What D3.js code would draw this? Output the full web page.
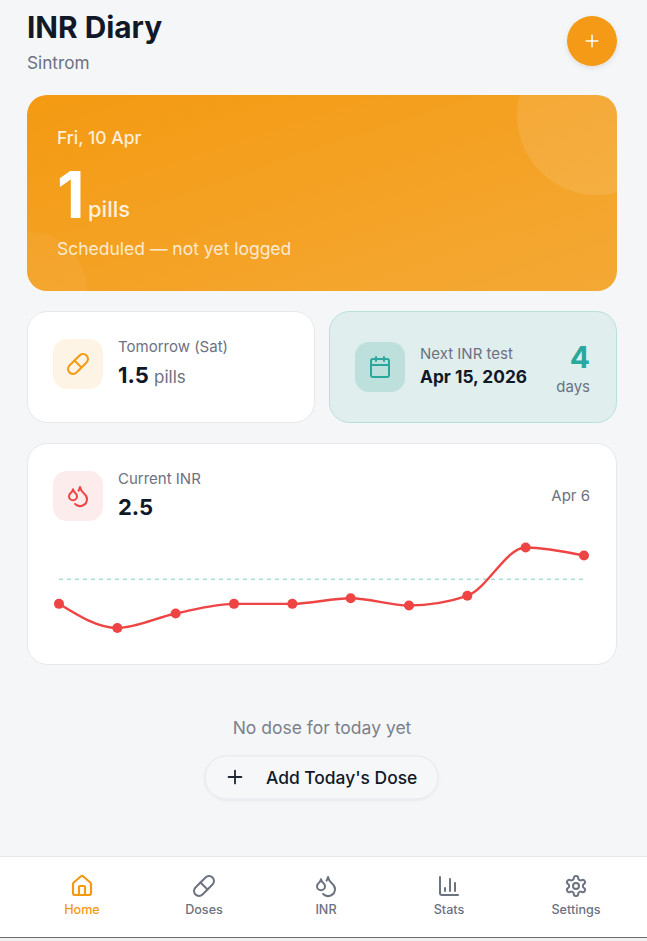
<!DOCTYPE html>
<html>
<head>
<meta charset="utf-8">
<script src="https://cdn.jsdelivr.net/npm/d3@7"></script>
<style>
  html, body { margin: 0; padding: 0; background: #f5f6f8; overflow: hidden; }
  svg { display: block; font-family: Inter, "Noto Sans", sans-serif; }
</style>
</head>
<body>
<div id="app"></div>
<script>
// INR readings, oldest to newest (last one is the "Current INR" on Apr 6)
const inrValues = [1.9, 1.6, 1.78, 1.9, 1.9, 1.97, 1.88, 2.0, 2.6, 2.5];
const targetInr = 2.2;
const navLabels = ["Home", "Doses", "INR", "Stats", "Settings"];
const navCenters = [82, 204, 326, 449, 576];

const ORANGE = "#f49a12";
const TEAL = "#2ba89e";
const RED = "#ef4444";
const GREY = "#6b7280";
const INK = "#111827";

// lucide icon outlines, 24x24 box
const icons = {
  home: ["M15 21v-8a1 1 0 0 0-1-1h-4a1 1 0 0 0-1 1v8", "M3 10a2 2 0 0 1 .709-1.528l7-5.999a2 2 0 0 1 2.582 0l7 5.999A2 2 0 0 1 21 10v9a2 2 0 0 1-2 2H5a2 2 0 0 1-2-2z"],
  pill: ["m10.5 20.5 10-10a4.95 4.95 0 1 0-7-7l-10 10a4.95 4.95 0 1 0 7 7Z", "m8.5 8.5 7 7"],
  drops: ["M7 16.3c2.2 0 4-1.83 4-4.05 0-1.16-.57-2.26-1.71-3.19S7.29 6.75 7 5.3c-.29 1.45-1.14 2.84-2.29 3.76S3 11.1 3 12.25c0 2.22 1.8 4.05 4 4.05z", "M12.56 6.6A10.97 10.97 0 0 0 14 3.02c.5 2.5 2 4.9 4 6.5s3 3.5 3 5.5a6.98 6.98 0 0 1-11.91 4.97"],
  stats: ["M3 3v16a2 2 0 0 0 2 2h16", "M18 17V9", "M13 17V5", "M8 17v-3"],
  gear: ["M12.22 2h-.44a2 2 0 0 0-2 2v.18a2 2 0 0 1-1 1.73l-.43.25a2 2 0 0 1-2 0l-.15-.08a2 2 0 0 0-2.73.73l-.22.38a2 2 0 0 0 .73 2.73l.15.1a2 2 0 0 1 1 1.72v.51a2 2 0 0 1-1 1.74l-.15.09a2 2 0 0 0-.73 2.73l.22.38a2 2 0 0 0 2.73.73l.15-.08a2 2 0 0 1 2 0l.43.25a2 2 0 0 1 1 1.73V20a2 2 0 0 0 2 2h.44a2 2 0 0 0 2-2v-.18a2 2 0 0 1 1-1.73l.43-.25a2 2 0 0 1 2 0l.15.08a2 2 0 0 0 2.73-.73l.22-.39a2 2 0 0 0-.73-2.73l-.15-.08a2 2 0 0 1-1-1.74v-.5a2 2 0 0 1 1-1.74l.15-.09a2 2 0 0 0 .73-2.73l-.22-.38a2 2 0 0 0-2.73-.73l-.15.08a2 2 0 0 1-2 0l-.43-.25a2 2 0 0 1-1-1.73V4a2 2 0 0 0-2-2z", "M9 12a3 3 0 1 0 6 0a3 3 0 1 0 -6 0"],
  calendar: ["M8 2v4", "M16 2v4", "M5 4h14a2 2 0 0 1 2 2v14a2 2 0 0 1-2 2H5a2 2 0 0 1-2-2V6a2 2 0 0 1 2-2z", "M3 10h18"],
  plus: ["M5 12h14", "M12 5v14"]
};
const navIcons = ["home", "pill", "drops", "stats", "gear"];

const svg = d3.select("#app").append("svg").attr("width", 647).attr("height", 941);
const defs = svg.append("defs");

const grad = defs.append("linearGradient").attr("id", "hero")
  .attr("x1", "0%").attr("y1", "0%").attr("x2", "100%").attr("y2", "100%");
grad.append("stop").attr("offset", "0%").attr("stop-color", "#f49a12");
grad.append("stop").attr("offset", "100%").attr("stop-color", "#f4a935");

defs.append("clipPath").attr("id", "heroClip").append("rect")
  .attr("x", 27).attr("y", 95).attr("width", 590).attr("height", 196).attr("rx", 20);

const soft = defs.append("filter").attr("id", "soft")
  .attr("x", "-30%").attr("y", "-30%").attr("width", "160%").attr("height", "170%");
soft.append("feDropShadow").attr("dx", 0).attr("dy", 2).attr("stdDeviation", 2.5)
  .attr("flood-color", "#000").attr("flood-opacity", 0.1);
const faint = defs.append("filter").attr("id", "faint")
  .attr("x", "-10%").attr("y", "-30%").attr("width", "120%").attr("height", "170%");
faint.append("feDropShadow").attr("dx", 0).attr("dy", 1).attr("stdDeviation", 1.5)
  .attr("flood-color", "#000").attr("flood-opacity", 0.06);

function label(x, y, str, size, weight, fill, anchor) {
  return svg.append("text").attr("x", x).attr("y", y).text(str)
    .attr("font-size", size).attr("font-weight", weight).attr("fill", fill)
    .attr("text-anchor", anchor || "start");
}

function card(x, y, w, h, fill, stroke) {
  svg.append("rect").attr("x", x + 0.5).attr("y", y + 0.5)
    .attr("width", w - 1).attr("height", h - 1).attr("rx", 20)
    .attr("fill", fill).attr("stroke", stroke);
}

function icon(name, cx, cy, size, color, width) {
  const g = svg.append("g")
    .attr("transform", `translate(${cx - size / 2},${cy - size / 2}) scale(${size / 24})`)
    .attr("fill", "none").attr("stroke", color).attr("stroke-width", width || 2)
    .attr("stroke-linecap", "round").attr("stroke-linejoin", "round");
  icons[name].forEach(d => g.append("path").attr("d", d));
}

function iconBox(x, y, fill, name, color) {
  svg.append("rect").attr("x", x).attr("y", y).attr("width", 50).attr("height", 50)
    .attr("rx", 14).attr("fill", fill);
  icon(name, x + 25, y + 25, 24, color);
}

// Header
label(27, 38, "INR Diary", 29.8, 700, INK);
label(27, 69, "Sintrom", 17.2, 400, GREY);
svg.append("circle").attr("cx", 592).attr("cy", 41).attr("r", 25)
  .attr("fill", ORANGE).attr("filter", "url(#soft)");
icon("plus", 592, 41, 20, "#fff", 1.8);

// Today's card
svg.append("rect").attr("x", 27).attr("y", 95).attr("width", 590).attr("height", 196)
  .attr("rx", 20).attr("fill", "url(#hero)");
const blobs = svg.append("g").attr("clip-path", "url(#heroClip)").attr("fill", "#fff");
blobs.append("circle").attr("cx", 597).attr("cy", 115).attr("r", 80).attr("fill-opacity", 0.1);
blobs.append("circle").attr("cx", 27).attr("cy", 291).attr("r", 60).attr("fill-opacity", 0.05);
label(57, 144, "Fri, 10 Apr", 17.5, 500, "rgba(255,255,255,0.85)");
label(57, 218, "1", 64, 700, "#fff");
label(88, 217, "pills", 22, 500, "rgba(255,255,255,0.85)");
label(57, 255, "Scheduled — not yet logged", 17.5, 400, "rgba(255,255,255,0.8)");

// Tomorrow
card(27, 311, 288, 112, "#fff", "#e5e7eb");
iconBox(53, 339, "#fef4e6", "pill", ORANGE);
label(118, 352, "Tomorrow (Sat)", 15, 400, GREY);
label(118, 383, "1.5", 22, 700, INK);
label(154, 383, "pills", 17, 400, GREY);

// Next test
card(329, 311, 288, 112, "#e0eeee", "#b8e0dc");
iconBox(355, 342, "#bde0dd", "calendar", TEAL);
label(420, 359, "Next INR test", 15, 400, GREY);
label(420, 383, "Apr 15, 2026", 17.3, 700, INK);
label(590, 368, "4", 30, 700, TEAL, "end");
label(590, 392, "days", 15, 400, GREY, "end");

// Current INR + sparkline
card(27, 443, 590, 222, "#fff", "#e5e7eb");
iconBox(53, 471, "#fdecec", "drops", RED);
label(118, 484, "Current INR", 15, 400, GREY);
label(118, 515, "2.5", 22, 700, INK);
label(590, 501, "Apr 6", 15, 400, GREY, "end");

const xScale = d3.scalePoint().domain(d3.range(inrValues.length)).range([59, 584]);
const yScale = d3.scaleLinear().domain([1.6, 2.6]).range([628, 547.5]);

svg.append("line")
  .attr("x1", xScale.range()[0]).attr("x2", xScale.range()[1])
  .attr("y1", yScale(targetInr) - 0.4).attr("y2", yScale(targetInr) - 0.4)
  .attr("stroke", "#a5dcd7").attr("stroke-width", 1.5).attr("stroke-dasharray", "4 4");

const line = d3.line()
  .x((d, i) => xScale(i))
  .y(d => yScale(d))
  .curve(d3.curveMonotoneX);

svg.append("path").datum(inrValues).attr("d", line)
  .attr("fill", "none").attr("stroke", RED).attr("stroke-width", 2.4);

svg.append("g").selectAll("circle").data(inrValues).join("circle")
  .attr("cx", (d, i) => xScale(i))
  .attr("cy", d => yScale(d))
  .attr("r", 5)
  .attr("fill", RED);

// Empty state
label(322, 734, "No dose for today yet", 17.5, 400, "#7b818c", "middle");
svg.append("rect").attr("x", 205).attr("y", 756).attr("width", 233).attr("height", 43)
  .attr("rx", 21.5).attr("fill", "#f6f7f9").attr("stroke", "#e5e7eb").attr("filter", "url(#faint)");
icon("plus", 235, 777, 22, "#1f2937");
label(266, 784, "Add Today's Dose", 17.4, 500, INK);

// Bottom nav
svg.append("rect").attr("x", 0).attr("y", 856).attr("width", 647).attr("height", 81)
  .attr("fill", "#fff");
svg.append("rect").attr("x", 0).attr("y", 856).attr("width", 647).attr("height", 1).attr("fill", "#e5e7eb");
svg.append("rect").attr("x", 0).attr("y", 937).attr("width", 647).attr("height", 1).attr("fill", "#6b6b6b");
svg.append("rect").attr("x", 0).attr("y", 938).attr("width", 647).attr("height", 3).attr("fill", "#f0f0f0");

navLabels.forEach((name, i) => {
  const color = i === 0 ? ORANGE : GREY;
  icon(navIcons[i], navCenters[i], 886, 24, color, i === 0 ? 2.2 : 2);
  label(navCenters[i], 914, name, 12.6, 500, color, "middle");
});
</script>
</body>
</html>
